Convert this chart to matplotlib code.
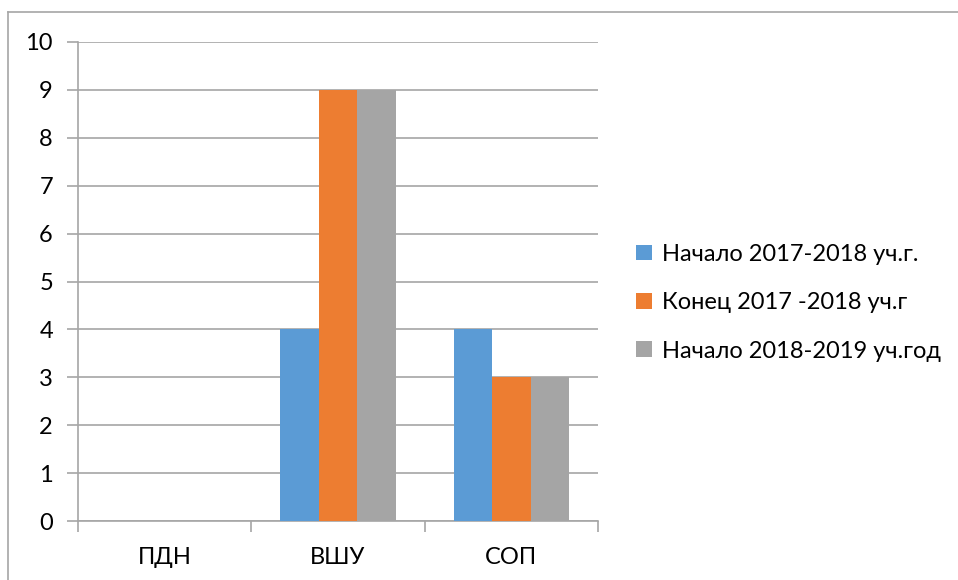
import numpy as np
import matplotlib
matplotlib.use('Agg')
import matplotlib.pyplot as plt
from matplotlib.patches import Patch
from matplotlib.lines import Line2D

categories = ['ПДН', 'ВШУ', 'СОП']
series_names = ['Начало 2017-2018 уч.г.', 'Конец 2017 -2018 уч.г', 'Начало 2018-2019 уч.год']
start_2017 = [0, 4, 4]
end_2017 = [0, 9, 3]
start_2018 = [0, 9, 3]
colors = ['#5B9BD5', '#ED7D31', '#A5A5A5']

plt.rcParams['font.family'] = ['Lato', 'DejaVu Sans']
grid_col = '#a6a6a6'

fig = plt.figure(figsize=(9.58, 5.8), dpi=100)
ax = fig.add_axes([0.0814, 0.1017, 0.5428, 0.8259])

x = np.arange(len(categories))
w = 0.222
for i, vals in enumerate([start_2017, end_2017, start_2018]):
    ax.bar(x + (i - 1) * w, vals, width=w, color=colors[i], label=series_names[i], zorder=3)

ax.set_xlim(-0.5, len(categories) - 0.5)
ax.set_ylim(0, 10)
ax.set_yticks(range(0, 11))
ax.yaxis.grid(True, color=grid_col, linewidth=1.2, zorder=0)
ax.tick_params(axis='y', length=8, color=grid_col, width=1.2, labelsize=17, pad=10)

ax.set_xticks(x)
ax.set_xticklabels(categories)
ax.tick_params(axis='x', which='major', length=0, labelsize=17, pad=19)
ax.set_xticks(np.arange(-0.5, len(categories)), minor=True)
ax.tick_params(axis='x', which='minor', length=8, color=grid_col, width=1.2)

for s in ['top', 'right']:
    ax.spines[s].set_visible(False)
for s in ['left', 'bottom']:
    ax.spines[s].set_color(grid_col)
    ax.spines[s].set_linewidth(1.2)

handles = [Patch(facecolor=c, edgecolor='none') for c in colors]
fig.legend(handles, series_names, loc='center left', bbox_to_anchor=(0.642, 0.478),
           frameon=False, fontsize=17, handlelength=0.65, handleheight=0.65,
           handletextpad=0.45, labelspacing=1.16)

# outer frame (only left and top visible in the crop)
fig.add_artist(Line2D([8 / 958, 8 / 958], [0, 1 - 12 / 580], transform=fig.transFigure,
                      color=grid_col, linewidth=1.2))
fig.add_artist(Line2D([8 / 958, 1], [1 - 12 / 580, 1 - 12 / 580], transform=fig.transFigure,
                      color=grid_col, linewidth=1.2))

fig.savefig('out.png', dpi=100)
